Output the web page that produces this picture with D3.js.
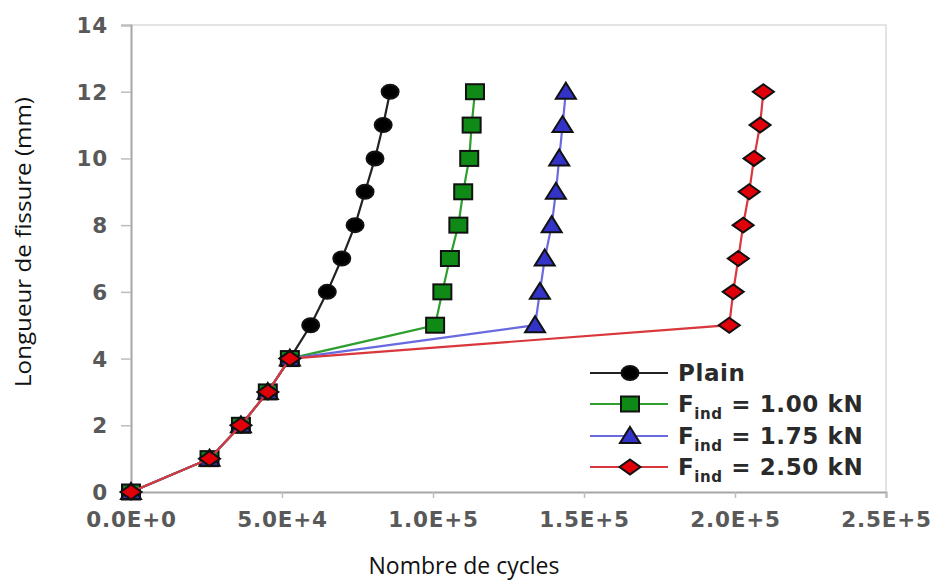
<!DOCTYPE html>
<html><head><meta charset="utf-8">
<script src="https://cdn.jsdelivr.net/npm/d3@7"></script>
<style>body{margin:0;background:#fff}svg{display:block}</style>
</head><body>
<svg id="c" width="935" height="583"></svg>
<script>
// Data
const crackLength = [0,1,2,3,4,5,6,7,8,9,10,11,12];
const plainCycles = [0,26000,36400,45300,52600,59500,65000,69800,74200,77500,80800,83500,85800];
const f100Cycles  = [0,26000,36400,45300,52600,100700,103100,105600,108400,110000,112000,112800,113900];
const f175Cycles  = [0,26000,36400,45300,52600,133800,135400,137000,139300,140700,141800,142900,144000];
const f250Cycles  = [0,26000,36400,45300,52600,198100,199400,201100,202700,204700,206300,208300,209400];
const xTickValues = [0,50000,100000,150000,200000,250000];
const xTickLabels = ["0.0E+0","5.0E+4","1.0E+5","1.5E+5","2.0E+5","2.5E+5"];
const yTickValues = [0,2,4,6,8,10,12,14];
const seriesNames = ["Plain","1.00 kN","1.75 kN","2.50 kN"];

const series = [
  {name:seriesNames[0], xs:plainCycles, line:"#222", fill:"#000", shape:"circle", legendF:false},
  {name:seriesNames[1], xs:f100Cycles, line:"#2e9e2e", fill:"#0f8a17", shape:"square", legendF:true},
  {name:seriesNames[2], xs:f175Cycles, line:"#6a6ae0", fill:"#3333c8", shape:"triangle", legendF:true},
  {name:seriesNames[3], xs:f250Cycles, line:"#d9373c", fill:"#e0000a", shape:"diamond", legendF:true}
];

const svg = d3.select("#c");
const L=131, R=886, T=25, B=492;
const x = d3.scaleLinear().domain([0,250000]).range([L,R]);
const y = d3.scaleLinear().domain([0,14]).range([B,T]);

// plot border (light)
svg.append("path").attr("d",`M${L},${T}H${R}V${B}`).attr("fill","none").attr("stroke","#dcdcdc").attr("stroke-width",1.5);

// axes
const xAxis = d3.axisBottom(x).tickValues(xTickValues).tickFormat((d,i)=>xTickLabels[i]).tickSize(6).tickPadding(14);
const gx = svg.append("g").attr("transform",`translate(0,${B})`).call(xAxis);
const yAxis = d3.axisLeft(y).tickValues(yTickValues).tickSize(10).tickPadding(13);
const gy = svg.append("g").attr("transform",`translate(${L},0)`).call(yAxis);
[gx,gy].forEach(g=>{
  g.select(".domain").attr("stroke","#a6a6a6").attr("stroke-width",2);
  g.selectAll(".tick line").attr("stroke","#bdbdbd").attr("stroke-width",1.5);
  g.selectAll(".tick text").attr("fill","#595959").attr("font-family","DejaVu Sans").attr("font-weight","bold")
    .attr("font-size",21.5).attr("letter-spacing",0.8);
});
gy.selectAll(".tick text").attr("dy","0.35em");

// axis titles
svg.append("text").attr("x",464).attr("y",574).attr("text-anchor","middle")
  .attr("font-family","Open Sans").attr("font-size",23).attr("fill","#111").text("Nombre de cycles");
svg.append("text").attr("transform","translate(31,242) rotate(-90)").attr("text-anchor","middle")
  .attr("font-family","Open Sans").attr("font-size",22.5).attr("textLength",290).attr("lengthAdjust","spacingAndGlyphs")
  .attr("fill","#111").text("Longueur de fissure (mm)");

function drawMarker(g, shape, cx, cy, fill){
  let el;
  if(shape==="circle"){
    el = g.append("ellipse").attr("cx",cx).attr("cy",cy).attr("rx",8.5).attr("ry",7);
  } else if(shape==="square"){
    el = g.append("rect").attr("x",cx-9).attr("y",cy-7.5).attr("width",18).attr("height",15);
  } else if(shape==="triangle"){
    el = g.append("path").attr("d",`M${cx},${cy-9}L${cx+10},${cy+7}L${cx-10},${cy+7}Z`);
  } else {
    el = g.append("path").attr("d",`M${cx},${cy-7.5}L${cx+10.5},${cy}L${cx},${cy+7.5}L${cx-10.5},${cy}Z`);
  }
  el.attr("fill",fill).attr("stroke","#111").attr("stroke-width",2);
}

const line = d3.line().x(d=>x(d[0])).y(d=>y(d[1]));
series.forEach(s=>{
  const pts = s.xs.map((v,i)=>[v,crackLength[i]]);
  const g = svg.append("g");
  g.append("path").attr("d",line(pts)).attr("fill","none").attr("stroke",s.line).attr("stroke-width",2.2);
  pts.forEach(p=>drawMarker(g,s.shape,x(p[0]),y(p[1]),s.fill));
});

// legend
const lg = svg.append("g");
const rowY = [373,404,436,467];
series.forEach((s,i)=>{
  const yy=rowY[i];
  lg.append("line").attr("x1",590).attr("x2",668).attr("y1",yy).attr("y2",yy).attr("stroke",s.line).attr("stroke-width",2.2);
  drawMarker(lg,s.shape,630,yy,s.fill);
  const t = lg.append("text").attr("x",678).attr("y",yy+8).attr("font-family","DejaVu Sans").attr("font-weight","bold")
    .attr("font-size",23).attr("letter-spacing",0.6).attr("fill","#2a2a2a");
  if(!s.legendF){ t.text(s.name); }
  else {
    t.append("tspan").text("F");
    t.append("tspan").attr("font-size",15).attr("dy",7).text("ind");
    t.append("tspan").attr("dy",-7).text(" = "+s.name);
  }
});
</script>
</body></html>
